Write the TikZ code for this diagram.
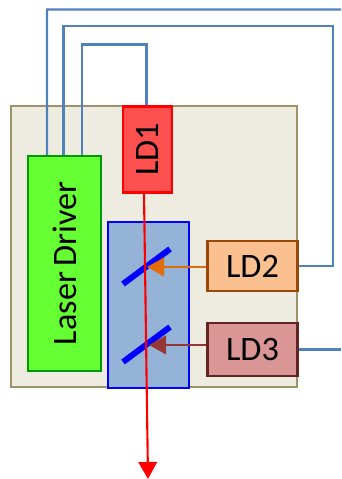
\documentclass[tikz,border=0pt]{standalone}
\usepackage{fontspec}
\setmainfont{Carlito}
\usetikzlibrary{arrows.meta}
\definecolor{wireblue}{HTML}{4F81BD}
\definecolor{baseedge}{HTML}{9C9468}
\definecolor{basefill}{HTML}{EEEBE0}
\definecolor{boxfill}{HTML}{95B3D7}
\definecolor{driverfill}{HTML}{66FF33}
\definecolor{driveredge}{HTML}{009900}
\definecolor{ldonefill}{HTML}{FF5050}
\definecolor{ldtwofill}{HTML}{FAC090}
\definecolor{ldtwoedge}{HTML}{984807}
\definecolor{ldtwobeam}{HTML}{E36C0A}
\definecolor{ldthreefill}{HTML}{D99694}
\definecolor{ldthreeedge}{HTML}{632523}
\definecolor{ldthreebeam}{HTML}{953735}
\begin{document}
\begin{tikzpicture}[x=0.02cm,y=-0.02cm,
        part/.style={draw,line width=1.2pt,inner sep=0pt,font=\fontsize{19.5}{19.5}\selectfont},
        wire/.style={draw=wireblue,line width=1.25pt},
        mirror/.style={draw=blue,line width=3.4pt},
        beam/.style={line width=1.2pt,-{Triangle[length=0.34cm,width=0.37cm]}}]
    \useasboundingbox (0,0) rectangle (341,479);
    \node[part,draw=baseedge,fill=basefill,minimum width=5.72cm,minimum height=5.62cm] (base) at (154,246.5) {};
    \node[part,draw=driveredge,fill=driverfill,minimum width=4.3cm,minimum height=1.46cm,rotate=90] (driver) at (64.5,263.5) {Laser\hspace{-1.5pt} Driver};
    \node[part,draw=red,fill=ldonefill,minimum width=1.72cm,minimum height=0.98cm,rotate=90] (ldone) at (147.5,149.5) {LD1};
    \node[part,draw=blue,fill=boxfill,minimum width=1.62cm,minimum height=3.32cm] (combiner) at (148.5,305) {};
    \node[part,draw=ldtwoedge,fill=ldtwofill,minimum width=1.8cm,minimum height=1cm] (ldtwo) at (252.5,266) {LD2};
    \node[part,draw=ldthreeedge,fill=ldthreefill,minimum width=1.8cm,minimum height=1.06cm] (ldthree) at (252.5,349.5) {LD3};
    \coordinate (topone) at (47,9.5);
    \coordinate (toptwo) at (333,26);
    \coordinate (topthree) at (82,44.5);
    \coordinate (edgeone) at (341,9.5);
    \coordinate (edgethree) at (341,349.5);
    \coordinate (output) at (148,479);
    \coordinate (mirrortwoa) at (123,284);
    \coordinate (mirrortwob) at (170,249);
    \coordinate (mirrorthreea) at (123,362);
    \coordinate (mirrorthreeb) at (170,327);
    \coordinate (hittwo) at (147,267);
    \coordinate (hitthree) at (149,345);
    % wires
    \draw[wire] ([xshift=-0.35cm]driver.east) -- (topone) -- (edgeone);
    \draw[wire] ([xshift=-0.02cm]driver.east) |- (toptwo) |- (ldtwo.east);
    \draw[wire] ([xshift=0.35cm]driver.east) |- (topthree) -| ([xshift=-0.02cm]ldone.east);
    \draw[wire] (ldthree.east) -- (edgethree);
    % mirrors and beams
    \draw[mirror] (mirrortwoa) -- (mirrortwob);
    \draw[mirror] (mirrorthreea) -- (mirrorthreeb);
    \draw[beam,draw=ldtwobeam,fill=ldtwobeam] (ldtwo.west |- hittwo) -- (hittwo);
    \draw[beam,draw=ldthreebeam,fill=ldthreebeam] (ldthree.west |- hitthree) -- (hitthree);
    \draw[beam,draw=red,fill=red] ([xshift=-0.07cm]ldone.west) -- (output);
\end{tikzpicture}
\end{document}
